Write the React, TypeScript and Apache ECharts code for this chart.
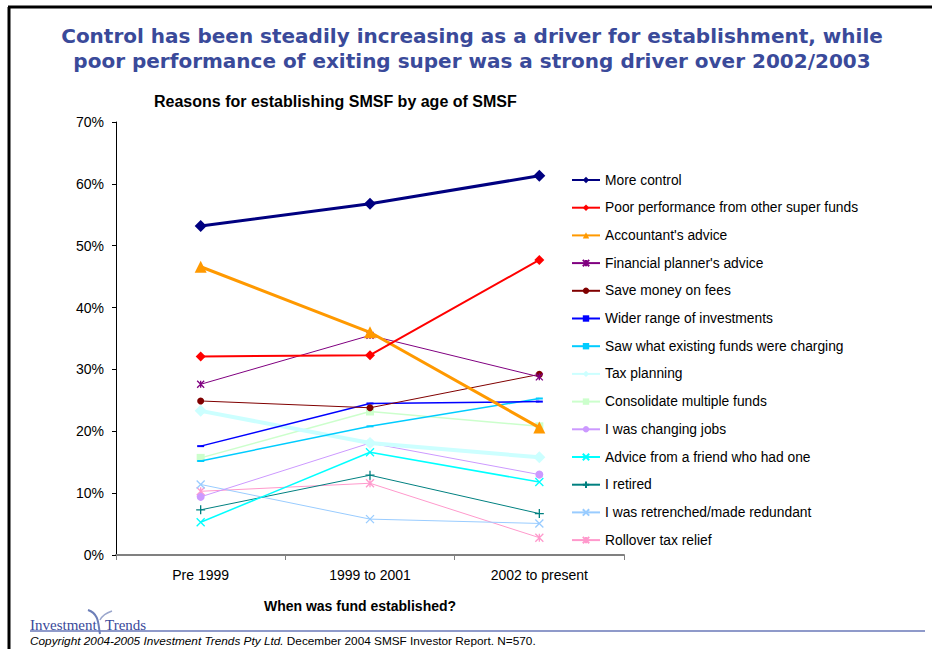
import React, { useEffect, useRef } from "react";
import * as echarts from "echarts";

const categories = ["Pre 1999", "1999 to 2001", "2002 to present"];
const yTicks = [0, 10, 20, 30, 40, 50, 60, 70];

const moreControl = [53.2, 56.8, 61.3];
const poorPerformance = [32.1, 32.3, 47.7];
const accountantAdvice = [46.6, 36.0, 20.6];
const plannerAdvice = [27.6, 35.5, 28.8];
const saveFees = [24.9, 23.8, 29.2];
const widerRange = [17.6, 24.5, 24.8];
const sawCharging = [15.2, 20.8, 25.3];
const taxPlanning = [23.3, 18.1, 15.8];
const consolidate = [15.7, 23.2, 20.8];
const changingJobs = [9.4, 18.1, 13.0];
const friendAdvice = [5.3, 16.6, 11.8];
const retired = [7.3, 12.9, 6.7];
const retrenched = [11.4, 5.8, 5.1];
const rolloverRelief = [10.3, 11.6, 2.8];

const FONT = "'Liberation Sans', Arial, sans-serif";
const X_PATH = "path://M0,0L10,10M10,0L0,10";
const PLUS_PATH = "path://M5,0L5,10M0,5L10,5";
const STAR_PATH = "path://M0,0L10,10M10,0L0,10M5,0L5,10";

type S = {
  name: string;
  data: number[];
  color: string;
  width: number;
  symbol: string;
  size: number | number[];
  stroke?: boolean;
};

const seriesDefs: S[] = [
  { name: "More control", data: moreControl, color: "#000080", width: 3, symbol: "diamond", size: 12 },
  { name: "Poor performance from other super funds", data: poorPerformance, color: "#FF0000", width: 2, symbol: "diamond", size: 10 },
  { name: "Accountant's advice", data: accountantAdvice, color: "#FF9900", width: 3, symbol: "triangle", size: 12 },
  { name: "Financial planner's advice", data: plannerAdvice, color: "#800080", width: 1, symbol: STAR_PATH, size: 7, stroke: true },
  { name: "Save money on fees", data: saveFees, color: "#800000", width: 1, symbol: "circle", size: 7 },
  { name: "Wider range of investments", data: widerRange, color: "#0000FF", width: 1.5, symbol: "rect", size: [7, 2] },
  { name: "Saw what existing funds were charging", data: sawCharging, color: "#00CCFF", width: 1.5, symbol: "rect", size: [7, 2] },
  { name: "Tax planning", data: taxPlanning, color: "#CCFFFF", width: 4, symbol: "diamond", size: 12 },
  { name: "Consolidate multiple funds", data: consolidate, color: "#CCFFCC", width: 1.5, symbol: "rect", size: 8 },
  { name: "I was changing jobs", data: changingJobs, color: "#CC99FF", width: 1, symbol: "circle", size: 8 },
  { name: "Advice from a friend who had one", data: friendAdvice, color: "#00FFFF", width: 1.5, symbol: X_PATH, size: 8, stroke: true },
  { name: "I retired", data: retired, color: "#008080", width: 1, symbol: PLUS_PATH, size: 9, stroke: true },
  { name: "I was retrenched/made redundant", data: retrenched, color: "#99CCFF", width: 1, symbol: X_PATH, size: 8, stroke: true },
  { name: "Rollover tax relief", data: rolloverRelief, color: "#FF99CC", width: 1, symbol: STAR_PATH, size: 8, stroke: true },
];

export default function App() {
  const ref = useRef<HTMLDivElement>(null);

  useEffect(() => {
    document.body.style.margin = "0";
    if (!ref.current) return;
    const chart = echarts.init(ref.current, undefined, { renderer: "svg" });

    const series = seriesDefs.map((d, i) => ({
      name: d.name,
      type: "line",
      data: d.data,
      symbol: d.symbol,
      symbolSize: d.size,
      showSymbol: true,
      lineStyle: { color: d.color, width: d.width },
      itemStyle: d.stroke
        ? { color: d.color, borderColor: d.color, borderWidth: 1.3, opacity: 1 }
        : { color: d.color, borderWidth: 0, opacity: 1 },
      emphasis: { disabled: true },
      z: 20 - i,
    }));

    chart.setOption({
      animation: false,
      backgroundColor: "#ffffff",
      textStyle: { fontFamily: FONT },
      grid: { left: 116, right: 308, top: 122, bottom: 94, containLabel: false },
      xAxis: {
        type: "category",
        data: categories,
        boundaryGap: true,
        axisLine: { lineStyle: { color: "#808080", width: 2 } },
        axisTick: { show: true, length: 5, lineStyle: { color: "#808080", width: 1 } },
        axisLabel: { color: "#000", fontSize: 14, fontFamily: FONT, margin: 13 },
        name: "When was fund established?",
        nameLocation: "middle",
        nameGap: 44,
        nameTextStyle: { color: "#000", fontSize: 14, fontWeight: "bold", fontFamily: FONT, padding: [0, 20, 0, 0] },
      },
      yAxis: {
        type: "value",
        min: yTicks[0],
        max: yTicks[yTicks.length - 1],
        interval: 10,
        axisLine: { show: true, lineStyle: { color: "#000", width: 1 } },
        axisTick: { show: true, inside: false, length: 4, lineStyle: { color: "#000" } },
        splitLine: { show: false },
        axisLabel: { formatter: "{value}%", color: "#000", fontSize: 14, fontFamily: FONT, margin: 12 },
      },
      legend: {
        orient: "vertical",
        left: 571,
        top: 173,
        padding: 0,
        itemWidth: 28,
        itemHeight: 8,
        itemGap: 13.7,
        textStyle: { fontSize: 13.8, color: "#000", fontFamily: FONT, lineHeight: 14 },
        selectedMode: false,
        data: seriesDefs.map((d) => d.name),
      },
      series,
      graphic: [
        { type: "line", shape: { x1: 9, y1: 7, x2: 9, y2: 649 }, style: { stroke: "#000", lineWidth: 3 } },
        { type: "line", shape: { x1: 8, y1: 7, x2: 932, y2: 7 }, style: { stroke: "#000", lineWidth: 3 } },
        {
          type: "text",
          x: 472,
          y: 36,
          style: {
            text: "Control has been steadily increasing as a driver for establishment, while",
            fill: "#3a4a9a",
            font: "bold 20px 'DejaVu Sans', Verdana, sans-serif",
            align: "center",
            verticalAlign: "middle",
          },
        },
        {
          type: "text",
          x: 472,
          y: 61,
          style: {
            text: "poor performance of exiting super was a strong driver over 2002/2003",
            fill: "#3a4a9a",
            font: "bold 20px 'DejaVu Sans', Verdana, sans-serif",
            align: "center",
            verticalAlign: "middle",
          },
        },
        {
          type: "text",
          x: 154,
          y: 101,
          style: {
            text: "Reasons for establishing SMSF by age of SMSF",
            fill: "#000",
            font: "bold 16px " + FONT,
            align: "left",
            verticalAlign: "middle",
          },
        },
        {
          type: "text",
          x: 30,
          y: 625,
          style: { text: "Investment", fill: "#3a4a9a", font: "15px 'Liberation Serif', 'Times New Roman', serif", verticalAlign: "middle" },
        },
        {
          type: "text",
          x: 105,
          y: 625,
          style: { text: "Trends", fill: "#3a4a9a", font: "15px 'Liberation Serif', 'Times New Roman', serif", verticalAlign: "middle" },
        },
        {
          type: "bezierCurve",
          shape: { x1: 88, y1: 610, x2: 100, y2: 634, cpx1: 100, cpy1: 614, cpx2: 98, cpy2: 626 },
          style: { stroke: "#6d7fb8", lineWidth: 2, fill: null },
        },
        {
          type: "bezierCurve",
          shape: { x1: 112, y1: 611, x2: 100, y2: 620, cpx1: 106, cpy1: 613, cpx2: 102, cpy2: 616 },
          style: { stroke: "#9aa6cc", lineWidth: 1.5, fill: null },
        },
        { type: "line", shape: { x1: 30, y1: 631, x2: 925, y2: 631 }, style: { stroke: "#6a78b8", lineWidth: 1.5 } },
        {
          type: "text",
          x: 30,
          y: 641,
          style: {
            text: "{i|Copyright 2004-2005 Investment Trends Pty Ltd.}{r| December 2004 SMSF Investor Report. N=570.}",
            verticalAlign: "middle",
            rich: {
              i: { fontStyle: "italic", fontSize: 11.8, fill: "#000", fontFamily: FONT },
              r: { fontSize: 11.8, fill: "#000", fontFamily: FONT },
            },
          },
        },
      ],
    });

    return () => chart.dispose();
  }, []);

  return <div ref={ref} style={{ width: 932, height: 649 }} />;
}
